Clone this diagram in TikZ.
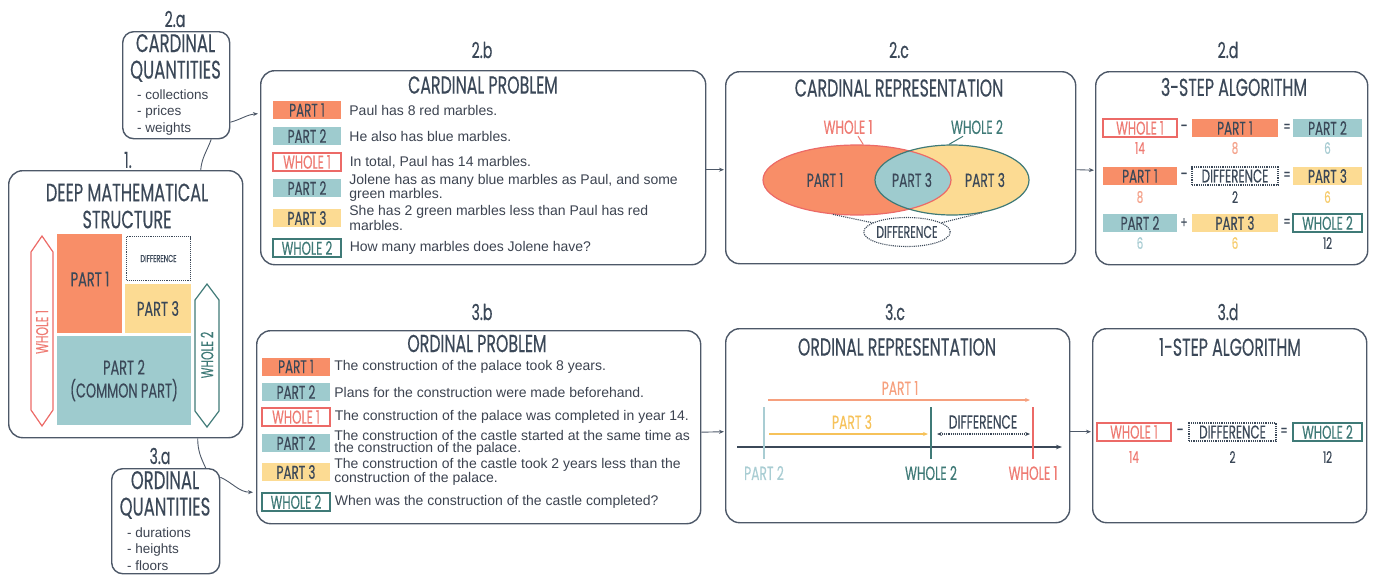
\documentclass[tikz,border=0pt]{standalone}
\usepackage{fontspec}
\setmainfont{Liberation Sans}
\newfontfamily\cond[FakeStretch=0.645,FakeBold=0.35]{Poppins}
\usetikzlibrary{arrows.meta,shapes.geometric,calc}
\definecolor{navy}{HTML}{3B4858}
\definecolor{edgec}{HTML}{4D5868}
\definecolor{bodyc}{HTML}{3C4350}
\definecolor{porange}{HTML}{F88E68}
\definecolor{pblue}{HTML}{9ECBCE}
\definecolor{pyellow}{HTML}{FCDB93}
\definecolor{wred}{HTML}{EC6A67}
\definecolor{wredt}{HTML}{EE7B73}
\definecolor{wteal}{HTML}{3F7A77}
\definecolor{norange}{HTML}{F4A38C}
\definecolor{nblue}{HTML}{A9CDD3}
\definecolor{nyellow}{HTML}{F6CC6E}
\definecolor{arrorange}{HTML}{F6A07E}
\definecolor{arryellow}{HTML}{F6C25A}
\newcommand\hfs[1]{\cond\fontsize{#1}{#1}\selectfont}
\begin{document}
\begin{tikzpicture}[x=1pt,y=-1pt,
  panel/.style={draw=edgec, line width=1.4pt, rounded corners=14pt, anchor=north west, inner sep=0pt},
  smallpanel/.style={panel, rounded corners=11pt},
  seclabel/.style={font=\hfs{22}, text=navy, inner sep=0pt},
  title/.style={font=\hfs{24.5}, text=navy, inner sep=0pt},
  tag/.style={minimum width=68pt, minimum height=18pt, inner sep=0pt, font=\hfs{18.5}, text=navy},
  tagA/.style={tag, fill=porange},
  tagB/.style={tag, fill=pblue},
  tagC/.style={tag, fill=pyellow},
  tagW/.style={tag, draw=wred, line width=1.2pt, text=wredt, fill=white},
  tagV/.style={tag, draw=wteal, line width=1.2pt, text=wteal, fill=white},
  tagD/.style={tag, draw=navy, densely dotted, line width=1.2pt, fill=white},
  body/.style={anchor=west, inner sep=0pt, font=\fontsize{14}{12}\selectfont, text=bodyc, align=left},
  bullet/.style={anchor=west, inner sep=0pt, font=\fontsize{13.5}{16.5}\selectfont, text=bodyc, align=left},
  num/.style={font=\hfs{16}, inner sep=0pt},
  op/.style={font=\hfs{16}, text=navy, inner sep=0pt},
  conn/.style={draw=edgec, line width=0.9pt},
  arr/.style={conn, -{Stealth[length=5pt,width=4pt]}},
  lbl/.style={font=\hfs{19}, inner sep=0pt}
]
\useasboundingbox (0,0) rectangle (1377,576);

% ---------- panels ----------
\node[panel, minimum width=234pt, minimum height=267pt] (p1) at (8,170) {};
\node[smallpanel, minimum width=107pt, minimum height=107pt] (p2a) at (122,31) {};
\node[smallpanel, minimum width=108pt, minimum height=105pt] (p3a) at (111,468) {};
\node[panel, minimum width=445pt, minimum height=194pt] (p2b) at (260,70) {};
\node[panel, minimum width=444pt, minimum height=193pt] (p3b) at (256,330) {};
\node[panel, minimum width=350pt, minimum height=192pt] (p2c) at (725,71) {};
\node[panel, minimum width=344pt, minimum height=194pt] (p3c) at (725,328) {};
\node[panel, minimum width=272pt, minimum height=193pt] (p2d) at (1095,71) {};
\node[panel, minimum width=274pt, minimum height=194pt] (p3d) at (1092,328) {};

% ---------- section labels ----------
\node[seclabel] (l1) at (128,160) {1.};
\node[seclabel] (l2a) at (175,19) {2.a};
\node[seclabel] (l3a) at (160,456) {3.a};
\node[seclabel] (l2b) at (482,50) {2.b};
\node[seclabel] (l2c) at (899,50) {2.c};
\node[seclabel] (l2d) at (1228,50) {2.d};
\node[seclabel] (l3b) at (482,312) {3.b};
\node[seclabel] (l3c) at (895,312) {3.c};
\node[seclabel] (l3d) at (1228,312) {3.d};

% ---------- connectors ----------
\draw[conn] ($(p1.north)+(75,0)$) to[out=85,in=-110] ($(p2a.south)+(35,0)$);
\draw[arr] ($(p2a.east)+(0,37)$) to[out=15,in=185] ($(p2b.west)+(-2,-54)$);
\draw[conn] ($(p1.south)+(72,0)$) to[out=-90,in=115] ($(p3a.north)+(40,0)$);
\draw[arr] ($(p3a.east)+(0,-44)$) to[out=-25,in=180] ($(p3b.west)+(-3,65)$);
\draw[arr] ($(p2b.east)+(0,2)$) -- ($(p2c.west)+(-1,2)$);
\draw[arr] ($(p2c.east)+(0,2)$) -- ($(p2d.west)+(-1,2)$);
\draw[arr] ($(p3b.east)+(0,5)$) -- ($(p3c.west)+(-1,6)$);
\draw[arr] ($(p3c.east)+(0,6)$) -- ($(p3d.west)+(-1,6)$);

% ---------- 1. deep structure ----------
\node[title, font=\hfs{25}, align=center] (t1) at (127,206) {DEEP MATHEMATICAL\\[2pt]STRUCTURE};
\node[fill=porange, minimum width=65pt, minimum height=99pt, inner sep=0pt] (s1) at (89.5,283.5) {};
\node[lbl, font=\hfs{20}, text=navy] (s1t) at (90,279) {PART 1};
\node[draw=navy, densely dotted, line width=1.1pt, minimum width=64pt, minimum height=44pt, inner sep=0pt, font=\hfs{10}, text=navy] (sd) at (158.5,258.5) {DIFFERENCE};
\node[fill=pyellow, minimum width=66pt, minimum height=49pt, inner sep=0pt, font=\hfs{20}, text=navy] (s3) at (158,308.5) {PART 3};
\node[fill=pblue, minimum width=134pt, minimum height=89pt, inner sep=0pt, font=\hfs{20}, text=navy, align=center] (s2) at (124,380.5) {PART 2\\[3pt](COMMON PART)};
\draw[wred, line width=1.2pt] (42,236) -- (53,252) -- (53,410) -- (42,426) -- (31,410) -- (31,252) -- cycle;
\node[lbl, font=\hfs{17}, text=wredt, rotate=90] (sw1) at (42,332) {WHOLE 1};
\draw[wteal, line width=1.2pt] (207,284) -- (219,300) -- (219,411) -- (207,427) -- (195,411) -- (195,300) -- cycle;
\node[lbl, font=\hfs{17}, text=wteal, rotate=90] (sw2) at (207,355) {WHOLE 2};

% ---------- 2.a / 3.a ----------
\node[title, font=\hfs{25.5}, align=center] (t2a) at (175.5,58) {CARDINAL\\[1pt]QUANTITIES};
\node[bullet] (b2a) at (137,112.5) {- collections\\- prices\\- weights};
\node[title, font=\hfs{25.5}, align=center] (t3a) at (165,495) {ORDINAL\\[1pt]QUANTITIES};
\node[bullet] (b3a) at (127,549) {- durations\\- heights\\- floors};

% ---------- 2.b ----------
\node[title] (t2b) at (483,85) {CARDINAL PROBLEM};
\node[tagA] (c1) at (307,110) {PART 1};
\node[body] at ([xshift=8pt]c1.east) {Paul has 8 red marbles.};
\node[tagB] (c2) at (307,136) {PART 2};
\node[body] at ([xshift=8pt]c2.east) {He also has blue marbles.};
\node[tagW] (c3) at (307,162) {WHOLE 1};
\node[body] at ([xshift=8pt]c3.east) {In total, Paul has 14 marbles.};
\node[tagB] (c4) at (307,188) {PART 2};
\node[body] at ([xshift=8pt]c4.east) {Jolene has as many blue marbles as Paul, and some\\green marbles.};
\node[tagC] (c5) at (307,218) {PART 3};
\node[body] at ([xshift=8pt]c5.east) {She has 2 green marbles less than Paul has red\\marbles.};
\node[tagV] (c6) at (307,248) {WHOLE 2};
\node[body] at ([xshift=8pt]c6.east) {How many marbles does Jolene have?};

% ---------- 3.b ----------
\node[title] (t3b) at (477,343.5) {ORDINAL PROBLEM};
\node[tagA] (o1) at (296,366.5) {PART 1};
\node[body] at ([xshift=4pt]o1.east) {The construction of the palace took 8 years.};
\node[tagB] (o2) at (296,392) {PART 2};
\node[body] at ([xshift=4pt]o2.east) {Plans for the construction were made beforehand.};
\node[tagW] (o3) at (296,417) {WHOLE 1};
\node[body] at ([xshift=4pt]o3.east) {The construction of the palace was completed in year 14.};
\node[tagB] (o4) at (296,443) {PART 2};
\node[body] at ([xshift=4pt]o4.east) {The construction of the castle started at the same time as\\the construction of the palace.};
\node[tagC] (o5) at (296,472) {PART 3};
\node[body] at ([xshift=4pt]o5.east) {The construction of the castle took 2 years less than the\\construction of the palace.};
\node[tagV] (o6) at (296,502) {WHOLE 2};
\node[body] at ([xshift=4pt]o6.east) {When was the construction of the castle completed?};

% ---------- 2.c Venn ----------
\node[title] (t2c) at (899,88) {CARDINAL REPRESENTATION};
\fill[porange] (857,180) ellipse [x radius=94pt, y radius=35pt];
\fill[pyellow] (952,180) ellipse [x radius=77pt, y radius=35pt];
\begin{scope}
  \clip (857,180) ellipse [x radius=94pt, y radius=35pt];
  \fill[pblue] (952,180) ellipse [x radius=77pt, y radius=35pt];
\end{scope}
\node[ellipse, draw=wred, line width=1.2pt, minimum width=188pt, minimum height=70pt, inner sep=0pt] (e1) at (857,180) {};
\node[ellipse, draw=wteal, line width=1.2pt, minimum width=154pt, minimum height=70pt, inner sep=0pt] (e2) at (952,180) {};
\node[lbl, text=navy] (v1) at (825,180) {PART 1};
\node[lbl, text=navy] (v3) at (912,180) {PART 3};
\node[lbl, text=navy] (v3b) at (985,180) {PART 3};
\node[lbl, text=wredt] (vw1) at (848,127) {WHOLE 1};
\node[lbl, text=wteal] (vw2) at (977,127) {WHOLE 2};
\draw[wredt, line width=1pt] ([xshift=10pt,yshift=-2pt]vw1.south) -- (e1.80);
\draw[wteal, line width=1pt] ([xshift=-14pt,yshift=-2pt]vw2.south) -- (e2.95);
\node[ellipse, draw=navy, densely dotted, line width=1.1pt, minimum width=78pt, minimum height=29pt, inner sep=0pt, font=\hfs{17}, text=navy] (vd) at (907,232) {DIFFERENCE};
\draw[navy, densely dotted, line width=1.1pt] (e1.-125) -- (vd.165);
\draw[navy, densely dotted, line width=1.1pt] (e2.-48) -- (vd.15);

% ---------- 2.d ----------
\node[title] (t2d) at (1234,87) {3-STEP ALGORITHM};
\node[tagW, minimum width=74pt] (a11) at (1140,128) {WHOLE 1};
\node[tagA, minimum width=86pt] (a12) at (1235,128) {PART 1};
\node[tagB, minimum width=69pt] (a13) at (1327.5,128) {PART 2};
\node[op] at (1184,128) {–};
\node[op] at (1287,128) {=};
\node[num, text=wredt] at ([yshift=-20pt]a11.center) {14};
\node[num, text=norange] at ([yshift=-20pt]a12.center) {8};
\node[num, text=nblue] at ([yshift=-20pt]a13.center) {6};
\node[tagA, minimum width=74pt] (a21) at (1140,176) {PART 1};
\node[tagD, minimum width=86pt] (a22) at (1235,176) {DIFFERENCE};
\node[tagC, minimum width=69pt] (a23) at (1327.5,176) {PART 3};
\node[op] at (1184,176) {–};
\node[op] at (1287,176) {=};
\node[num, text=norange] at ([yshift=-21pt]a21.center) {8};
\node[num, text=navy] at ([yshift=-21pt]a22.center) {2};
\node[num, text=nyellow] at ([yshift=-21pt]a23.center) {6};
\node[tagB, minimum width=74pt] (a31) at (1140,223) {PART 2};
\node[tagC, minimum width=86pt] (a32) at (1235,223) {PART 3};
\node[tagV, minimum width=69pt] (a33) at (1327.5,223) {WHOLE 2};
\node[op] at (1184,223) {+};
\node[op] at (1287,223) {=};
\node[num, text=nblue] at ([yshift=-20pt]a31.center) {6};
\node[num, text=nyellow] at ([yshift=-20pt]a32.center) {6};
\node[num, text=navy] at ([yshift=-20pt]a33.center) {12};

% ---------- 3.c ----------
\node[title] (t3c) at (897,347) {ORDINAL REPRESENTATION};
\coordinate (axL) at (737,447);
\coordinate (axR) at (1062,447);
\draw[navy, line width=1.1pt, -{Stealth[length=6pt,width=4.5pt]}] (axL) -- (axR);
\coordinate (k2t) at (764,407); \coordinate (k2b) at (764,459);
\coordinate (kw2t) at (931,407); \coordinate (kw2b) at (931,459);
\coordinate (kw1t) at (1033,407); \coordinate (kw1b) at (1033,459);
\draw[nblue, line width=1.6pt] (k2t) -- (k2b);
\draw[wteal, line width=1.6pt] (kw2t) -- (kw2b);
\draw[wred, line width=1.6pt] (kw1t) -- (kw1b);
\coordinate (q1a) at (768,400); \coordinate (q1b) at (1030,400);
\draw[arrorange, line width=1.2pt, -{Stealth[length=5pt,width=4pt]}] (q1a) -- (q1b);
\node[lbl, text=arrorange] (r1) at (900,388) {PART 1};
\coordinate (q3a) at (769,434); \coordinate (q3b) at (928,434);
\draw[arryellow, line width=1.2pt, -{Stealth[length=5pt,width=4pt]}] (q3a) -- (q3b);
\node[lbl, text=arryellow] (r3) at (852,422) {PART 3};
\coordinate (qda) at (937,434); \coordinate (qdb) at (1030,434);
\draw[navy, densely dotted, line width=1.1pt, {Stealth[length=5pt,width=4pt]}-{Stealth[length=5pt,width=4pt]}] (qda) -- (qdb);
\node[lbl, text=navy] (rd) at (983,422) {DIFFERENCE};
\node[lbl, text=nblue] (r2) at (764,473) {PART 2};
\node[lbl, text=wteal] (rw2) at (931,473) {WHOLE 2};
\node[lbl, text=wredt] (rw1) at (1033,473) {WHOLE 1};

% ---------- 3.d ----------
\node[title] (t3d) at (1230,347) {1-STEP ALGORITHM};
\node[tagW, minimum width=74pt] (d1) at (1134,432) {WHOLE 1};
\node[tagD, minimum width=87pt] (d2) at (1232.5,432) {DIFFERENCE};
\node[tagV, minimum width=69pt] (d3) at (1327.5,432) {WHOLE 2};
\node[op] at (1180,432) {–};
\node[op] at (1284,432) {=};
\node[num, text=wredt] at ([yshift=-25pt]d1.center) {14};
\node[num, text=navy] at ([yshift=-25pt]d2.center) {2};
\node[num, text=navy] at ([yshift=-25pt]d3.center) {12};
\end{tikzpicture}
\end{document}
